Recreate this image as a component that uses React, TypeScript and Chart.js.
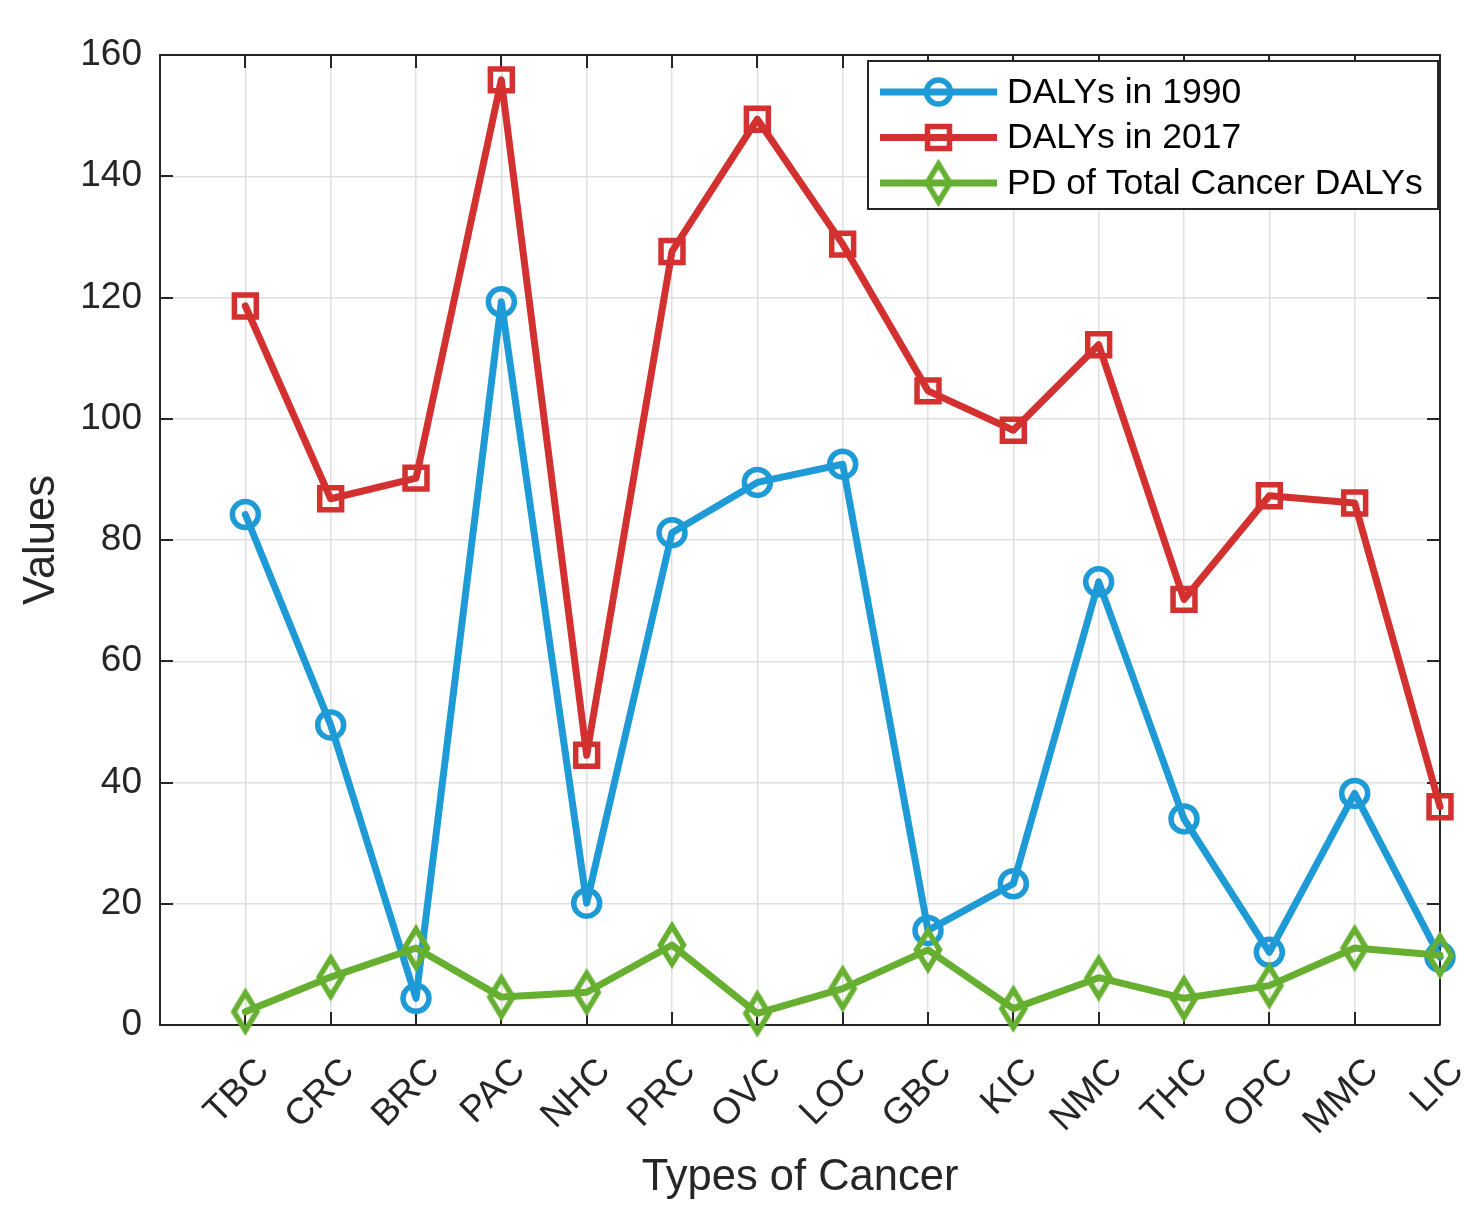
import React, { useEffect, useRef } from 'react';
import { Chart, registerables } from 'chart.js';

Chart.register(...registerables);

const categories = ['TBC', 'CRC', 'BRC', 'PAC', 'NHC', 'PRC', 'OVC', 'LOC', 'GBC', 'KIC', 'NMC', 'THC', 'OPC', 'MMC', 'LIC'];
const dalys1990 = [84.2, 49.5, 4.4, 119.3, 20.1, 81.2, 89.5, 92.5, 15.6, 23.3, 73.1, 34.0, 12.0, 38.2, 11.2];
const dalys2017 = [118.6, 86.8, 90.2, 155.9, 44.5, 127.6, 149.4, 128.8, 104.6, 98.1, 112.2, 70.2, 87.3, 86.1, 36.0];
const pdTotal = [2.2, 7.9, 12.7, 4.6, 5.4, 13.2, 1.9, 6.0, 12.4, 2.7, 7.8, 4.4, 6.5, 12.7, 11.5];
const yTickValues = [0, 20, 40, 60, 80, 100, 120, 140, 160];
const seriesLabels = ['DALYs in 1990', 'DALYs in 2017', 'PD of Total Cancer DALYs'];

const BLUE = '#1E9AD6';
const RED = '#D23130';
const GREEN = '#66AF30';
const AXIS = '#262626';
const FONT = '"Liberation Sans", Arial, Helvetica, sans-serif';
const LINE_W = 7;
const MARKER_W = 5.5;

// Hollow diamond marker, taller than wide
function makeDiamond(color: string): HTMLCanvasElement {
  const c = document.createElement('canvas');
  c.width = 36;
  c.height = 50;
  const g = c.getContext('2d')!;
  g.strokeStyle = color;
  g.lineWidth = MARKER_W;
  g.lineJoin = 'miter';
  g.beginPath();
  g.moveTo(18, 6);
  g.lineTo(29.5, 25);
  g.lineTo(18, 44);
  g.lineTo(6.5, 25);
  g.closePath();
  g.stroke();
  return c;
}

const toPoints = (vals: number[]) => vals.map((v, i) => ({ x: i + 1, y: v }));

// Closed box with inward tick marks on all four sides
const axesBoxPlugin = {
  id: 'axesBox',
  beforeDatasetsDraw(chart: any) {
    const { ctx, chartArea, scales } = chart;
    const { left, right, top, bottom } = chartArea;
    const len = 13;
    ctx.save();
    ctx.strokeStyle = AXIS;
    ctx.lineWidth = 2;
    ctx.beginPath();
    ctx.moveTo(left, top);
    ctx.lineTo(right, top);
    ctx.lineTo(right, bottom);
    ctx.stroke();
    ctx.beginPath();
    scales.x.ticks.forEach((t: any) => {
      const px = Math.round(scales.x.getPixelForValue(t.value));
      ctx.moveTo(px, bottom);
      ctx.lineTo(px, bottom - len);
      ctx.moveTo(px, top);
      ctx.lineTo(px, top + len);
    });
    scales.y.ticks.forEach((t: any) => {
      const py = Math.round(scales.y.getPixelForValue(t.value));
      ctx.moveTo(left, py);
      ctx.lineTo(left + len, py);
      ctx.moveTo(right, py);
      ctx.lineTo(right - len, py);
    });
    ctx.stroke();
    ctx.restore();
  },
};

// Boxed legend in the upper right corner of the plot area
const boxLegendPlugin = {
  id: 'boxLegend',
  afterDraw(chart: any) {
    const { ctx, chartArea } = chart;
    const w = 570;
    const h = 148;
    const x0 = chartArea.right - w - 2;
    const y0 = chartArea.top + 6;
    ctx.save();
    ctx.fillStyle = '#FFFFFF';
    ctx.fillRect(x0, y0, w, h);
    ctx.strokeStyle = AXIS;
    ctx.lineWidth = 2;
    ctx.strokeRect(x0, y0, w, h);
    chart.data.datasets.forEach((ds: any, i: number) => {
      const cy = y0 + 31 + i * 45.5;
      const lx0 = x0 + 12;
      const lx1 = x0 + 129;
      const mx = (lx0 + lx1) / 2;
      ctx.strokeStyle = ds.borderColor;
      ctx.lineWidth = LINE_W;
      ctx.lineCap = 'butt';
      ctx.beginPath();
      ctx.moveTo(lx0, cy);
      ctx.lineTo(lx1, cy);
      ctx.stroke();
      ctx.lineWidth = MARKER_W;
      if (ds.pointStyle === 'circle') {
        ctx.beginPath();
        ctx.arc(mx, cy, 12, 0, Math.PI * 2);
        ctx.stroke();
      } else if (ds.pointStyle === 'rect') {
        ctx.strokeRect(mx - 11, cy - 11, 22, 22);
      } else if (ds.pointStyle instanceof HTMLCanvasElement) {
        const img = ds.pointStyle as HTMLCanvasElement;
        ctx.drawImage(img, mx - img.width / 2, cy - img.height / 2);
      }
      ctx.fillStyle = '#000000';
      ctx.font = `35.5px ${FONT}`;
      ctx.textAlign = 'left';
      ctx.textBaseline = 'middle';
      ctx.fillText(ds.label, x0 + 139, cy + 1);
    });
    ctx.restore();
  },
};

export default function App() {
  const canvasRef = useRef<HTMLCanvasElement | null>(null);

  useEffect(() => {
    if (!canvasRef.current) return;
    const diamond = makeDiamond(GREEN);
    const lineStyle = {
      borderWidth: LINE_W,
      pointBorderWidth: MARKER_W,
      pointBackgroundColor: 'rgba(0,0,0,0)',
      borderJoinStyle: 'round' as const,
      borderCapStyle: 'round' as const,
      tension: 0,
      clip: false as const,
      fill: false,
    };
    const chart = new Chart(canvasRef.current, {
      type: 'line',
      data: {
        datasets: [
          {
            ...lineStyle,
            label: seriesLabels[0],
            data: toPoints(dalys1990),
            borderColor: BLUE,
            pointBorderColor: BLUE,
            pointStyle: 'circle',
            pointRadius: 13,
            order: 2,
          },
          {
            ...lineStyle,
            label: seriesLabels[1],
            data: toPoints(dalys2017),
            borderColor: RED,
            pointBorderColor: RED,
            pointStyle: 'rect',
            pointRadius: 15.5,
            order: 1,
          },
          {
            ...lineStyle,
            label: seriesLabels[2],
            data: toPoints(pdTotal),
            borderColor: GREEN,
            pointBorderColor: GREEN,
            pointStyle: diamond as any,
            pointRadius: 18,
            order: 0,
          },
        ],
      },
      options: {
        animation: false,
        responsive: false,
        devicePixelRatio: 1,
        events: [],
        layout: { padding: { top: 55, right: 44, left: 0, bottom: 0 } },
        plugins: {
          legend: { display: false },
          tooltip: { enabled: false },
        },
        scales: {
          x: {
            type: 'linear',
            min: 0,
            max: categories.length,
            afterFit: (scale: any) => {
              scale.height = 197;
              scale.paddingLeft = 0;
              scale.paddingRight = 0;
            },
            afterBuildTicks: (scale: any) => {
              scale.ticks = [0, ...categories.map((_, i) => i + 1)].map((v) => ({ value: v }));
            },
            ticks: {
              autoSkip: false,
              minRotation: 45,
              maxRotation: 45,
              padding: 25,
              labelOffset: 18,
              color: AXIS,
              font: { family: FONT, size: 37 },
              callback: (v: any) => categories[Number(v) - 1] ?? '',
            },
            grid: { color: '#DFDFDF', lineWidth: 1.5, drawTicks: false },
            border: { display: true, color: AXIS, width: 2 },
            title: {
              display: true,
              text: 'Types of Cancer',
              color: AXIS,
              font: { family: FONT, size: 43.5 },
              padding: { top: 0, bottom: 18 },
            },
          },
          y: {
            type: 'linear',
            min: yTickValues[0],
            max: yTickValues[yTickValues.length - 1],
            afterFit: (scale: any) => {
              scale.width = 160;
              scale.paddingTop = 0;
              scale.paddingBottom = 0;
            },
            afterBuildTicks: (scale: any) => {
              scale.ticks = yTickValues.map((v) => ({ value: v }));
            },
            ticks: {
              padding: 18,
              color: AXIS,
              font: { family: FONT, size: 37 },
              callback: (v: any) => String(v),
            },
            grid: { color: '#DFDFDF', lineWidth: 1.5, drawTicks: false },
            border: { display: true, color: AXIS, width: 2 },
            title: {
              display: true,
              text: 'Values',
              color: AXIS,
              font: { family: FONT, size: 43.5 },
              padding: { top: 16, bottom: 0 },
            },
          },
        },
      },
      plugins: [axesBoxPlugin, boxLegendPlugin],
    });
    return () => chart.destroy();
  }, []);

  return (
    <div style={{ position: 'absolute', left: 0, top: 0, width: 1484, height: 1222, background: '#FFFFFF' }}>
      <canvas ref={canvasRef} width={1484} height={1222} />
    </div>
  );
}
